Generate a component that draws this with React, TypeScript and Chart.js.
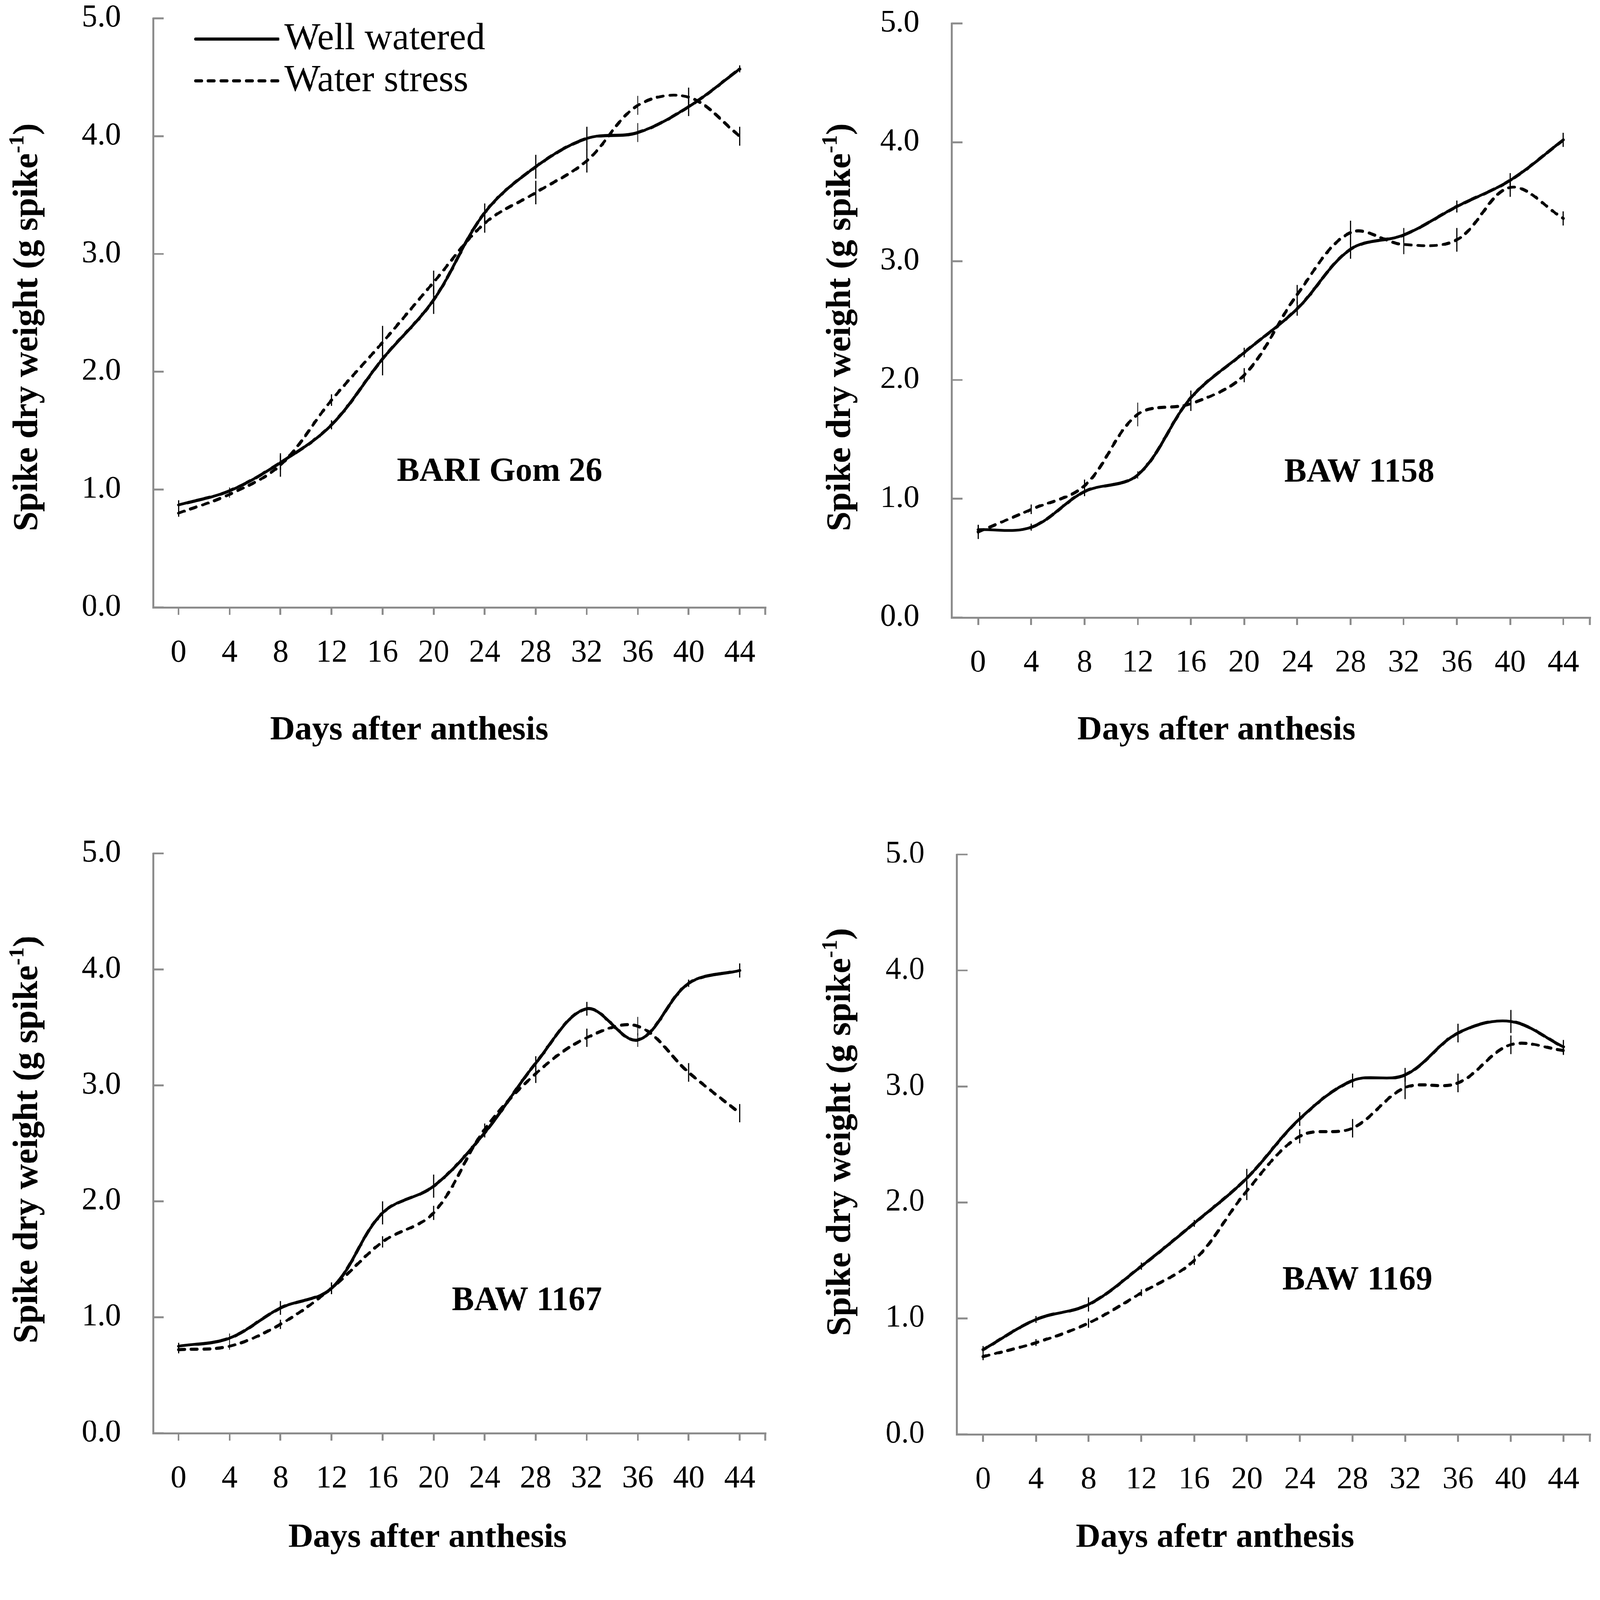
import React, { useEffect, useRef, useState } from "react";
import { Chart, registerables } from "chart.js";

Chart.register(...registerables);

// ---------- data ----------
const days = ["0", "4", "8", "12", "16", "20", "24", "28", "32", "36", "40", "44"];
const yTickLabels = ["0.0", "1.0", "2.0", "3.0", "4.0", "5.0"];
const seriesNames = ["Well watered", "Water stress"];

const bari26Well = [0.87, 0.99, 1.23, 1.55, 2.11, 2.61, 3.35, 3.74, 3.98, 4.03, 4.25, 4.57];
const bari26WellErr = [0.04, 0.03, 0.06, 0.04, 0.14, 0.12, 0.08, 0.1, 0.1, 0.08, 0.08, 0.03];
const bari26Stress = [0.8, 0.96, 1.21, 1.76, 2.25, 2.76, 3.26, 3.52, 3.79, 4.26, 4.33, 4.0];
const bari26StressErr = [0.03, 0.03, 0.1, 0.05, 0.14, 0.1, 0.08, 0.1, 0.1, 0.08, 0.08, 0.08];

const baw1158Well = [0.74, 0.76, 1.06, 1.2, 1.85, 2.23, 2.6, 3.1, 3.22, 3.46, 3.68, 4.02];
const baw1158WellErr = [0.04, 0.03, 0.04, 0.03, 0.06, 0.04, 0.06, 0.08, 0.06, 0.05, 0.06, 0.06];
const baw1158Stress = [0.72, 0.91, 1.11, 1.71, 1.8, 2.04, 2.72, 3.24, 3.14, 3.18, 3.62, 3.36];
const baw1158StressErr = [0.06, 0.04, 0.05, 0.1, 0.06, 0.06, 0.08, 0.1, 0.08, 0.1, 0.08, 0.06];

const baw1167Well = [0.75, 0.82, 1.08, 1.25, 1.9, 2.13, 2.59, 3.19, 3.66, 3.39, 3.88, 3.99];
const baw1167WellErr = [0.03, 0.04, 0.06, 0.05, 0.1, 0.1, 0.04, 0.06, 0.06, 0.06, 0.03, 0.06];
const baw1167Stress = [0.72, 0.75, 0.94, 1.25, 1.65, 1.9, 2.62, 3.1, 3.41, 3.51, 3.11, 2.76];
const baw1167StressErr = [0.03, 0.03, 0.04, 0.05, 0.05, 0.06, 0.05, 0.08, 0.08, 0.08, 0.08, 0.08];

const baw1169Well = [0.73, 0.99, 1.12, 1.45, 1.82, 2.21, 2.72, 3.05, 3.1, 3.46, 3.56, 3.34];
const baw1169WellErr = [0.03, 0.03, 0.06, 0.03, 0.03, 0.08, 0.06, 0.06, 0.06, 0.08, 0.1, 0.06];
const baw1169Stress = [0.67, 0.79, 0.96, 1.22, 1.5, 2.1, 2.57, 2.64, 2.99, 3.03, 3.36, 3.31];
const baw1169StressErr = [0.03, 0.03, 0.04, 0.03, 0.04, 0.08, 0.06, 0.08, 0.1, 0.08, 0.08, 0.04];

// ---------- style ----------
const SERIF = "'Liberation Serif', 'Times New Roman', serif";
const AXIS = "#8c8c8c";
const LINE_W = 8;
const DASH = [16, 18];
const PAGE_W = 4288;
const PAGE_H = 4206;

type Spec = {
  left: number;
  top: number;
  width: number;
  height: number;
  area: { l: number; t: number; r: number; b: number };
  well: number[];
  wellErr: number[];
  stress: number[];
  stressErr: number[];
  name: string;
  namePos: [number, number];
  xTitle: string;
  xTitlePos: [number, number];
  yTitlePos: [number, number];
  legend: boolean;
};

const PW = 2144;
const PH = 2103;

const specs: Spec[] = [
  {
    left: 0, top: 0, width: PW, height: PH,
    area: { l: 410, t: 49, r: 2051, b: 1628 },
    well: bari26Well, wellErr: bari26WellErr, stress: bari26Stress, stressErr: bari26StressErr,
    name: "BARI Gom 26", namePos: [1339, 1266],
    xTitle: "Days after anthesis", xTitlePos: [1097, 1958],
    yTitlePos: [68, 877], legend: true,
  },
  {
    left: PW, top: 0, width: PW, height: PH,
    area: { l: 406, t: 63, r: 2117, b: 1655 },
    well: baw1158Well, wellErr: baw1158WellErr, stress: baw1158Stress, stressErr: baw1158StressErr,
    name: "BAW 1158", namePos: [1499, 1268],
    xTitle: "Days after anthesis", xTitlePos: [1116, 1958],
    yTitlePos: [103, 877], legend: false,
  },
  {
    left: 0, top: PH, width: PW, height: PH,
    area: { l: 410, t: 184, r: 2051, b: 1738 },
    well: baw1167Well, wellErr: baw1167WellErr, stress: baw1167Stress, stressErr: baw1167StressErr,
    name: "BAW 1167", namePos: [1412, 1385],
    xTitle: "Days after anthesis", xTitlePos: [1146, 2019],
    yTitlePos: [68, 951], legend: false,
  },
  {
    left: PW, top: PH, width: PW, height: PH,
    area: { l: 420, t: 187, r: 2117, b: 1741 },
    well: baw1169Well, wellErr: baw1169WellErr, stress: baw1169Stress, stressErr: baw1169StressErr,
    name: "BAW 1169", namePos: [1494, 1330],
    xTitle: "Days afetr anthesis", xTitlePos: [1112, 2019],
    yTitlePos: [103, 931], legend: false,
  },
];

function Panel({ spec }: { spec: Spec }) {
  const ref = useRef<HTMLCanvasElement>(null);

  useEffect(() => {
    const canvas = ref.current;
    if (!canvas) return;
    const a = spec.area;
    const errs = [spec.wellErr, spec.stressErr];

    const overlay = {
      id: "overlay",
      afterDatasetsDraw(chart: any) {
        const ctx = chart.ctx;
        const ys = chart.scales.y;
        ctx.save();
        ctx.strokeStyle = "#000";
        ctx.lineWidth = 3;
        chart.data.datasets.forEach((ds: any, i: number) => {
          const meta = chart.getDatasetMeta(i);
          meta.data.forEach((pt: any, j: number) => {
            const v = ds.data[j];
            const e = errs[i][j];
            ctx.beginPath();
            ctx.moveTo(pt.x, ys.getPixelForValue(v + e));
            ctx.lineTo(pt.x, ys.getPixelForValue(v - e));
            ctx.stroke();
          });
        });
        ctx.restore();
      },
      afterDraw(chart: any) {
        const ctx = chart.ctx;
        const ca = chart.chartArea;
        const ys = chart.scales.y;
        ctx.save();
        // inward y ticks
        ctx.strokeStyle = AXIS;
        ctx.lineWidth = 5;
        ys.ticks.forEach((t: any) => {
          const py = ys.getPixelForValue(t.value);
          ctx.beginPath();
          ctx.moveTo(ca.left, py);
          ctx.lineTo(ca.left + 29, py);
          ctx.stroke();
        });
        // extra tick at right end of x axis
        ctx.beginPath();
        ctx.moveTo(ca.right, ca.bottom);
        ctx.lineTo(ca.right, ca.bottom + 20);
        ctx.stroke();

        ctx.fillStyle = "#000";
        // panel name
        ctx.font = `bold 90px ${SERIF}`;
        ctx.textAlign = "center";
        ctx.textBaseline = "middle";
        ctx.fillText(spec.name, spec.namePos[0], spec.namePos[1]);

        // x title
        ctx.font = `bold 92px ${SERIF}`;
        ctx.fillText(spec.xTitle, spec.xTitlePos[0], spec.xTitlePos[1]);

        // y title with superscript
        ctx.save();
        ctx.translate(spec.yTitlePos[0], spec.yTitlePos[1]);
        ctx.rotate(-Math.PI / 2);
        ctx.textAlign = "left";
        ctx.textBaseline = "alphabetic";
        const mainFont = `bold 94px ${SERIF}`;
        const supFont = `bold 58px ${SERIF}`;
        const t1 = "Spike dry weight (g spike";
        const t2 = "-1";
        const t3 = ")";
        ctx.font = mainFont;
        const w1 = ctx.measureText(t1).width;
        const w3 = ctx.measureText(t3).width;
        ctx.font = supFont;
        const w2 = ctx.measureText(t2).width;
        const total = w1 + w2 + w3;
        let x = -total / 2;
        const base = 31;
        ctx.font = mainFont;
        ctx.fillText(t1, x, base);
        x += w1;
        ctx.font = supFont;
        ctx.fillText(t2, x, base - 36);
        x += w2;
        ctx.font = mainFont;
        ctx.fillText(t3, x, base);
        ctx.restore();

        // legend
        if (spec.legend) {
          const rows = [105, 217];
          ctx.strokeStyle = "#000";
          ctx.lineWidth = LINE_W;
          ctx.lineCap = "round";
          rows.forEach((ry, i) => {
            ctx.setLineDash(i === 1 ? DASH : []);
            ctx.beginPath();
            ctx.moveTo(524, ry);
            ctx.lineTo(745, ry);
            ctx.stroke();
          });
          ctx.setLineDash([]);
          ctx.font = `102px ${SERIF}`;
          ctx.textAlign = "left";
          ctx.textBaseline = "middle";
          rows.forEach((ry, i) => {
            ctx.fillText(chart.data.datasets[i].label, 762, ry);
          });
        }
        ctx.restore();
      },
    };

    const chart = new Chart(canvas, {
      type: "line",
      data: {
        labels: days,
        datasets: [
          {
            label: seriesNames[0],
            data: spec.well,
            borderColor: "#000",
            borderWidth: LINE_W,
            tension: 0.35,
            pointRadius: 0,
            fill: false,
            borderCapStyle: "round",
            borderJoinStyle: "round",
          },
          {
            label: seriesNames[1],
            data: spec.stress,
            borderColor: "#000",
            borderWidth: LINE_W,
            borderDash: DASH,
            tension: 0.35,
            pointRadius: 0,
            fill: false,
            borderCapStyle: "round",
            borderJoinStyle: "round",
          },
        ],
      },
      options: {
        animation: false,
        responsive: false,
        devicePixelRatio: 1,
        layout: { padding: { left: 0, top: a.t, right: spec.width - a.r, bottom: 0 } },
        plugins: {
          legend: { display: false },
          tooltip: { enabled: false },
          title: { display: false },
        },
        scales: {
          x: {
            type: "category",
            offset: true,
            grid: {
              display: true,
              drawOnChartArea: false,
              drawTicks: true,
              tickLength: 20,
              color: AXIS,
              lineWidth: 5,
            },
            border: { display: true, color: AXIS, width: 5 },
            ticks: {
              color: "#000",
              font: { family: SERIF, size: 84 },
              padding: 53,
              maxRotation: 0,
              autoSkip: false,
            },
            afterFit(s: any) {
              s.height = spec.height - a.b;
              s.paddingLeft = 0;
              s.paddingRight = 0;
              s.paddingTop = 0;
              s.paddingBottom = 0;
            },
          },
          y: {
            min: 0,
            max: 5,
            grid: { display: false, drawTicks: false },
            border: { display: true, color: AXIS, width: 5 },
            ticks: {
              stepSize: 1,
              color: "#000",
              font: { family: SERIF, size: 84 },
              padding: 86,
              callback: (_v: any, i: number) => yTickLabels[i],
            },
            afterFit(s: any) {
              s.width = a.l;
              s.paddingTop = 0;
              s.paddingBottom = 0;
              s.paddingLeft = 0;
              s.paddingRight = 0;
            },
          },
        },
      } as any,
      plugins: [overlay],
    });
    return () => chart.destroy();
  }, [spec]);

  return (
    <canvas
      ref={ref}
      width={spec.width}
      height={spec.height}
      style={{
        position: "absolute",
        left: spec.left,
        top: spec.top,
        width: spec.width,
        height: spec.height,
      }}
    />
  );
}

function fitScale(): number {
  if (typeof window === "undefined") return 1;
  const s = Math.min(window.innerWidth / PAGE_W, window.innerHeight / PAGE_H);
  return s > 0 ? s : 1;
}

export default function App() {
  const [scale, setScale] = useState<number>(fitScale());
  useEffect(() => {
    document.documentElement.style.margin = "0";
    document.documentElement.style.overflow = "hidden";
    document.body.style.margin = "0";
    document.body.style.overflow = "hidden";
    document.body.style.background = "#fff";
    setScale(fitScale());
  }, []);
  return (
    <div
      style={{
        position: "absolute",
        left: 0,
        top: 0,
        width: PAGE_W,
        height: PAGE_H,
        background: "#fff",
        transform: `scale(${scale})`,
        transformOrigin: "0 0",
      }}
    >
      {specs.map((s, i) => (
        <Panel key={i} spec={s} />
      ))}
    </div>
  );
}
